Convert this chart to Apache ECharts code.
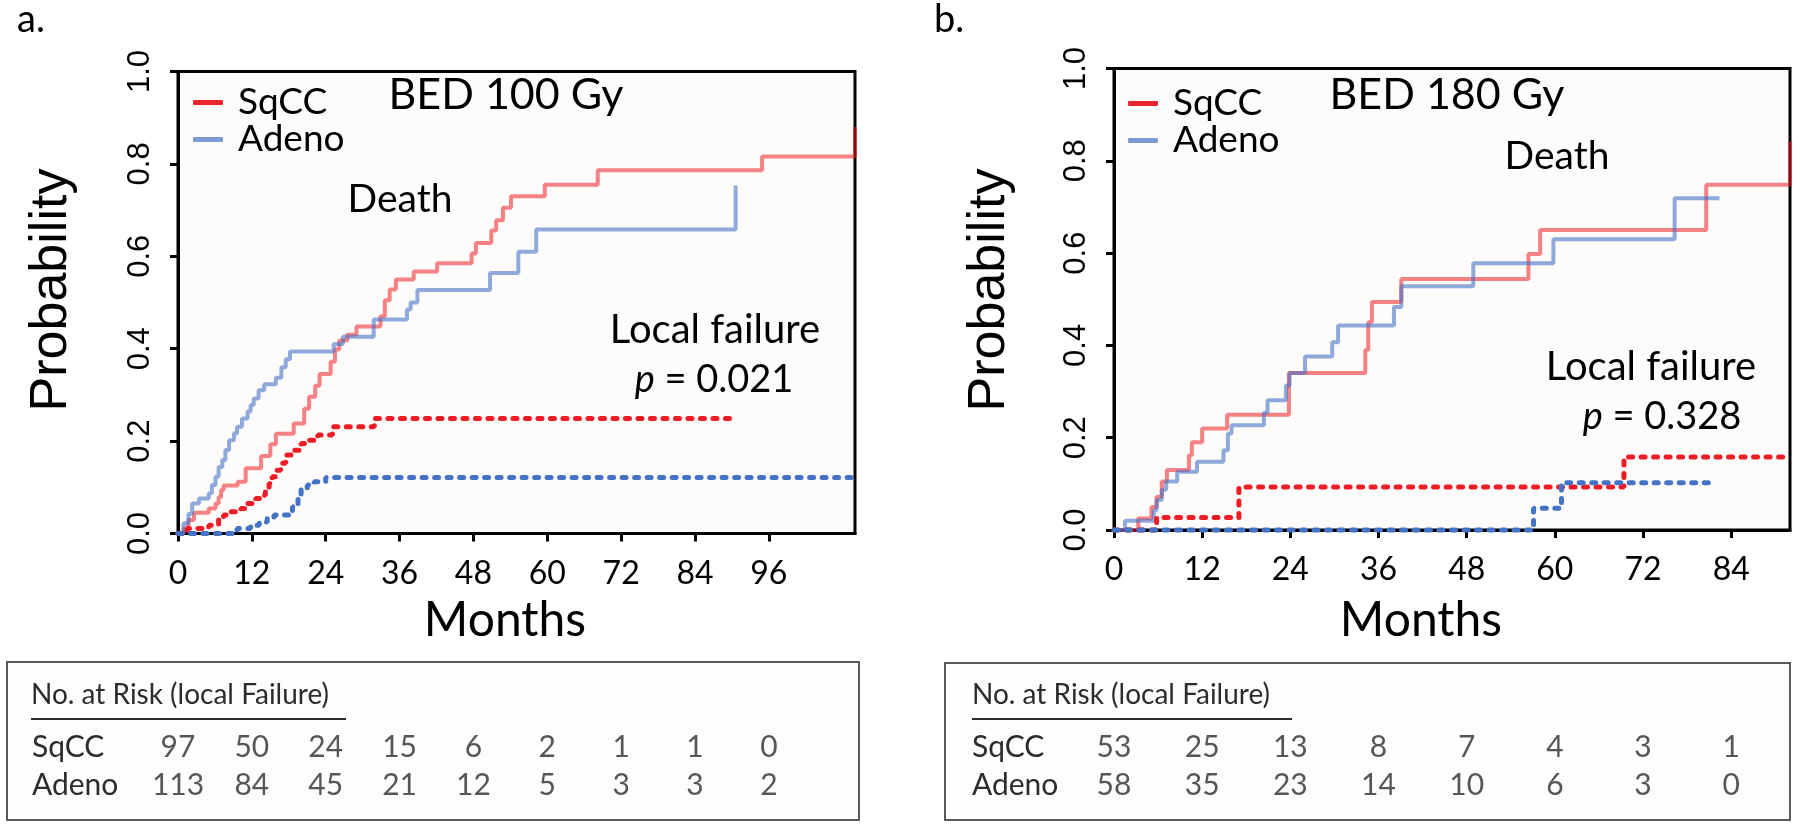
<!DOCTYPE html>
<html>
<head>
<meta charset="utf-8">
<script src="https://cdn.jsdelivr.net/npm/echarts@6/dist/echarts.min.js"></script>
<style>
  html, body { margin: 0; padding: 0; background: #ffffff; }
  #chart { width: 1800px; height: 828px; }
</style>
</head>
<body>
<div id="chart"></div>
<script>
// ---------- Data ----------
// Panel a: BED 100 Gy  — [month, cumulative probability]
const sqccDeathA = [[0,0],[0.9,0.011],[1.7,0.029],[2.6,0.045],[5.0,0.054],[6.1,0.065],[6.6,0.079],[7.0,0.094],[7.4,0.104],[9.7,0.112],[11.0,0.141],[13.5,0.168],[15.0,0.193],[15.9,0.216],[18.8,0.238],[20.5,0.27],[21.3,0.296],[22.3,0.32],[23.0,0.345],[24.8,0.372],[25.5,0.398],[26.2,0.418],[27.5,0.43],[29.0,0.448],[32.9,0.47],[33.6,0.505],[34.4,0.528],[35.4,0.55],[38.3,0.567],[42.1,0.585],[47.7,0.606],[48.4,0.629],[50.9,0.656],[51.7,0.678],[52.8,0.705],[54.1,0.73],[59.6,0.755],[68.2,0.786],[94.9,0.816],[110,0.816],[110,0.88]];
const adenoDeathA = [[0,0],[0.9,0.022],[1.7,0.043],[2.3,0.065],[3.4,0.076],[5.0,0.087],[5.5,0.105],[6.1,0.123],[6.6,0.144],[7.2,0.159],[7.7,0.181],[8.3,0.202],[9.1,0.217],[9.6,0.231],[10.4,0.249],[11.3,0.264],[11.8,0.278],[12.3,0.292],[13.1,0.31],[14.0,0.323],[15.9,0.337],[16.8,0.36],[17.5,0.377],[18.2,0.394],[25.3,0.41],[26.8,0.426],[31.8,0.463],[37.2,0.485],[37.8,0.5],[38.9,0.527],[50.7,0.564],[55.3,0.61],[58.2,0.658],[90.6,0.658],[90.6,0.753]];
const sqccLocalA = [[0,0],[1.5,0.011],[5.0,0.018],[6.6,0.029],[7.4,0.04],[8.5,0.047],[10.2,0.054],[11.3,0.065],[12.6,0.076],[13.4,0.083],[14.2,0.094],[14.8,0.108],[15.3,0.123],[15.9,0.137],[16.7,0.152],[17.5,0.17],[18.6,0.18],[20.0,0.195],[21.0,0.202],[22.7,0.213],[25.1,0.231],[31.9,0.249],[89.8,0.249]];
const adenoLocalA = [[0,0],[9.0,0.005],[9.6,0.011],[11.8,0.018],[13.2,0.025],[14.5,0.032],[15.6,0.04],[18.6,0.058],[19.5,0.079],[20.0,0.097],[21.0,0.105],[22.1,0.112],[24.0,0.121],[110,0.121]];

// Panel b: BED 180 Gy
const sqccDeathB = [[0,0],[3.3,0.025],[5.1,0.05],[5.8,0.072],[6.5,0.105],[7.2,0.13],[10.2,0.162],[10.6,0.19],[12.0,0.22],[15.4,0.25],[23.8,0.34],[34.2,0.39],[34.6,0.45],[35.1,0.494],[39.1,0.544],[56.4,0.598],[58.0,0.65],[80.6,0.748],[92,0.748],[92,0.842]];
const adenoDeathB = [[0,0],[1.5,0.02],[5.4,0.043],[5.8,0.065],[6.5,0.087],[7.1,0.105],[8.6,0.126],[11.3,0.148],[14.9,0.173],[15.5,0.209],[16.0,0.227],[20.4,0.254],[20.9,0.281],[23.4,0.313],[23.9,0.34],[26.0,0.376],[29.7,0.407],[30.5,0.443],[38.1,0.483],[39.1,0.528],[48.9,0.578],[59.8,0.63],[76.3,0.719],[82.4,0.719]];
const sqccLocalB = [[0,0],[5.8,0.027],[17.0,0.093],[69.4,0.158],[92,0.158]];
const adenoLocalB = [[0,0],[57.1,0.047],[60.9,0.1025],[81.4,0.1025]];

// Axis ticks
const xTicksA = [0,12,24,36,48,60,72,84,96];
const xTicksB = [0,12,24,36,48,60,72,84];
const xMaxA = 110;
const xMaxB = 92;

// Numbers at risk (local failure)
const riskMonthsA = [0,12,24,36,48,60,72,84,96];
const riskSqccA  = [97,50,24,15,6,2,1,1,0];
const riskAdenoA = [113,84,45,21,12,5,3,3,2];
const riskMonthsB = [0,12,24,36,48,60,72,84];
const riskSqccB  = [53,25,13,8,7,4,3,1];
const riskAdenoB = [58,35,23,14,10,6,3,0];
const groups = ['SqCC','Adeno'];

// ---------- Styling ----------
const CAL = 'Lato, "Open Sans", sans-serif';
const ARI = '"Liberation Sans", Arial, sans-serif';
const RED = '#ee1c24', BLUE = '#4472c4';
const RED_T = 'rgba(238,28,36,0.55)', BLUE_T = 'rgba(68,114,196,0.6)';
const TABLE_INK = '#2c2c2c';

function riskData(months, sq, ad) {
  const out = [];
  months.forEach((m, i) => { out.push([m, 'SqCC', sq[i]]); });
  months.forEach((m, i) => { out.push([m, 'Adeno', ad[i]]); });
  return out;
}

function plotXAxis(gridIndex, max, ticks) {
  return {
    type: 'value', gridIndex, min: 0, max, interval: 12,
    axisLine: { show: true, lineStyle: { color: '#000', width: 3 } },
    axisTick: { show: true, customValues: ticks, length: 8, lineStyle: { color: '#000', width: 3 } },
    axisLabel: { customValues: ticks, margin: 24, fontFamily: CAL, fontSize: 32, color: '#000' },
    splitLine: { show: false }
  };
}
function plotYAxis(gridIndex) {
  return {
    type: 'value', gridIndex, min: 0, max: 1, interval: 0.2,
    axisLine: { show: true, lineStyle: { color: '#000', width: 3 } },
    axisTick: { show: true, length: 8, lineStyle: { color: '#000', width: 3 } },
    axisLabel: { rotate: 90, margin: 22, fontFamily: ARI, fontSize: 31, color: '#000',
                 formatter: v => v.toFixed(1) },
    splitLine: { show: false }
  };
}
function hiddenX(gridIndex, max) {
  return { type: 'value', gridIndex, min: 0, max, show: false, splitLine: { show: false } };
}
function tableY(gridIndex, margin) {
  return {
    type: 'category', gridIndex, data: groups, inverse: true,
    axisLine: { show: false }, axisTick: { show: false }, splitLine: { show: false },
    axisLabel: { interval: 0, hideOverlap: false, align: 'left', margin, fontFamily: CAL, fontSize: 30, color: TABLE_INK }
  };
}
function km(name, data, xi, color, dashed) {
  return {
    type: 'line', name, xAxisIndex: xi, yAxisIndex: xi, data, step: 'end',
    symbol: 'none', silent: true, clip: false, animation: false,
    z: dashed ? 4 : 3,
    lineStyle: dashed
      ? { color, width: 5, type: [4, 8.5], cap: 'round' }
      : { color, width: 4 }
  };
}
function riskSeries(xi, data) {
  return {
    type: 'scatter', xAxisIndex: xi, yAxisIndex: xi, data, symbolSize: 1,
    itemStyle: { color: 'rgba(0,0,0,0)' }, silent: true, animation: false,
    label: { show: true, position: 'inside', formatter: p => String(p.value[2]),
             fontFamily: CAL, fontSize: 30, color: TABLE_INK }
  };
}
function legendFor(left, top) {
  return {
    left, top, orient: 'vertical', itemGap: 0, itemWidth: 30, itemHeight: 5,
    icon: 'roundRect', selectedMode: false,
    formatter: n => '{g|}{t|' + n + '}',
    textStyle: { rich: { g: { width: 10 }, t: { fontFamily: CAL, fontSize: 37, color: '#000', lineHeight: 35 } } },
    data: [
      { name: 'SqCC', itemStyle: { color: '#e8262c', opacity: 1, borderWidth: 0 } },
      { name: 'Adeno', itemStyle: { color: '#7b9bd4', opacity: 1, borderWidth: 0 } }
    ]
  };
}
function txt(text, x, y, size, family, extra) {
  return Object.assign({
    type: 'text', x, y, silent: true,
    style: { text, fontSize: size, fontFamily: family || CAL, fill: '#000', align: 'center', verticalAlign: 'middle' }
  }, extra || {});
}
function ptxt(val, x, y) {
  return {
    type: 'text', x, y, silent: true,
    style: { text: '{i|p} = ' + val, fontSize: 38, fontFamily: CAL, fill: '#000', align: 'center', verticalAlign: 'middle',
             rich: { i: { fontStyle: 'italic', fontSize: 38, fontFamily: CAL } } }
  };
}

const option = {
  backgroundColor: '#ffffff',
  animation: false,
  grid: [
    { left: 178, top: 71.5, width: 677, height: 462, show: true, backgroundColor: '#fdfcfb', borderColor: '#000', borderWidth: 3 },
    { left: 1114, top: 68.5, width: 676, height: 461.5, show: true, backgroundColor: '#fdfcfb', borderColor: '#000', borderWidth: 3 },
    { left: 178, top: 728, width: 677, height: 76 },
    { left: 1114, top: 728, width: 676, height: 76 }
  ],
  xAxis: [ plotXAxis(0, xMaxA, xTicksA), plotXAxis(1, xMaxB, xTicksB), hiddenX(2, xMaxA), hiddenX(3, xMaxB) ],
  yAxis: [ plotYAxis(0), plotYAxis(1), tableY(2, 146), tableY(3, 142) ],
  legend: [ legendFor(188, 79), legendFor(1123, 80) ],
  series: [
    km('SqCC', sqccDeathA, 0, RED_T, false),
    km('Adeno', adenoDeathA, 0, BLUE_T, false),
    km('SqCC', sqccLocalA, 0, RED, true),
    km('Adeno', adenoLocalA, 0, BLUE, true),
    km('SqCC', sqccDeathB, 1, RED_T, false),
    km('Adeno', adenoDeathB, 1, BLUE_T, false),
    km('SqCC', sqccLocalB, 1, RED, true),
    km('Adeno', adenoLocalB, 1, BLUE, true),
    riskSeries(2, riskData(riskMonthsA, riskSqccA, riskAdenoA)),
    riskSeries(3, riskData(riskMonthsB, riskSqccB, riskAdenoB))
  ],
  graphic: [
    // table frames
    { type: 'rect', shape: { x: 7, y: 662, width: 852, height: 158 }, style: { fill: '#fefdfd', stroke: '#5a5a5a', lineWidth: 2 }, z: -1, silent: true },
    { type: 'rect', shape: { x: 945, y: 663, width: 845, height: 157 }, style: { fill: '#fefdfd', stroke: '#5a5a5a', lineWidth: 2 }, z: -1, silent: true },
    { type: 'text', x: 31, y: 695, silent: true, style: { text: 'No. at Risk (local Failure)', fontSize: 28, fontFamily: CAL, fill: TABLE_INK, align: 'left', verticalAlign: 'middle' } },
    { type: 'line', shape: { x1: 31, y1: 719, x2: 346, y2: 719 }, style: { stroke: TABLE_INK, lineWidth: 2 }, silent: true },
    { type: 'text', x: 972, y: 695, silent: true, style: { text: 'No. at Risk (local Failure)', fontSize: 28, fontFamily: CAL, fill: TABLE_INK, align: 'left', verticalAlign: 'middle' } },
    { type: 'line', shape: { x1: 972, y1: 719, x2: 1292, y2: 719 }, style: { stroke: TABLE_INK, lineWidth: 2 }, silent: true },
    // panel letters
    txt('a.', 17, 20, 38, CAL, { style: { text: 'a.', fontSize: 38, fontFamily: CAL, fill: '#000', align: 'left', verticalAlign: 'middle' } }),
    txt('b.', 934, 20, 38, CAL, { style: { text: 'b.', fontSize: 38, fontFamily: CAL, fill: '#000', align: 'left', verticalAlign: 'middle' } }),
    // axis titles
    txt('Probability', 52, 290, 52, ARI, { rotation: Math.PI / 2 }),
    txt('Probability', 990, 290, 52, ARI, { rotation: Math.PI / 2 }),
    txt('Months', 505, 621, 48),
    txt('Months', 1421, 621, 48),
    // annotations a
    txt('BED 100 Gy', 506, 95, 43),
    txt('Death', 400, 199, 39),
    txt('Local failure', 715, 330, 40),
    ptxt('0.021', 714, 380),
    // annotations b
    txt('BED 180 Gy', 1447, 95, 43),
    txt('Death', 1557, 156, 39),
    txt('Local failure', 1651, 367, 40),
    ptxt('0.328', 1662, 417)
  ]
};

const chart = echarts.init(document.getElementById('chart'), null, { renderer: 'canvas' });
chart.setOption(option);
</script>
</body>
</html>
